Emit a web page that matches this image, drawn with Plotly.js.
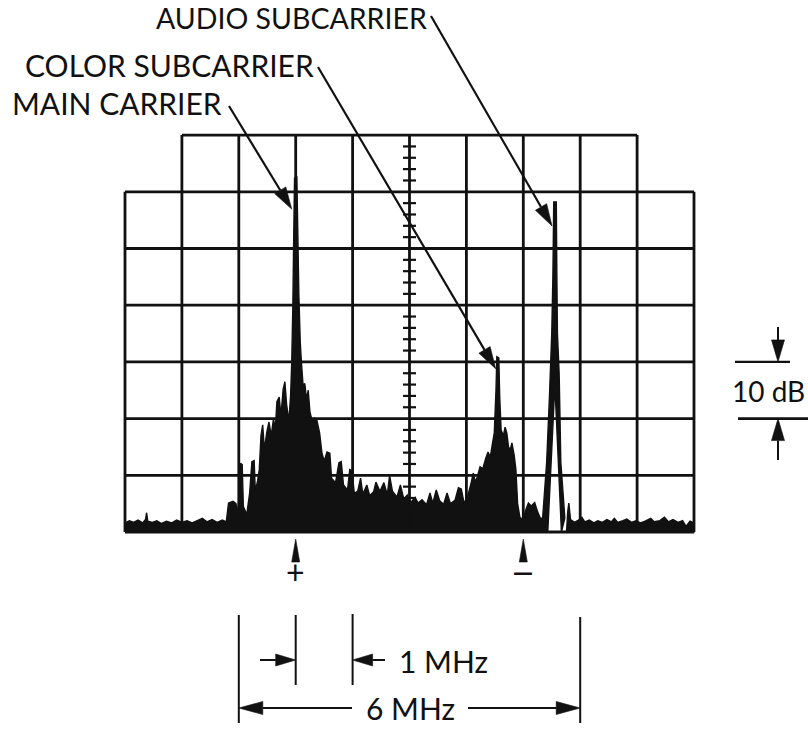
<!DOCTYPE html>
<html>
<head>
<meta charset="utf-8">
<script src="https://cdn.plot.ly/plotly-3.0.1.min.js"></script>
<style>
  html, body { margin: 0; padding: 0; background: #fff; }
  #chart { width: 808px; height: 729px; }
</style>
</head>
<body>
<div id="chart"></div>
<script>
// Spectrum trace: frequency offset from the main carrier (MHz) and level (dB, 0 = top graticule line)
const traceFreqMHz = [
  -3.00, -2.92, -2.85, -2.77, -2.69, -2.64, -2.62, -2.60, -2.52, -2.44,
  -2.36, -2.27, -2.18, -2.09, -2.00, -1.91, -1.82, -1.73, -1.64, -1.56,
  -1.47, -1.38, -1.29, -1.22, -1.20, -1.18, -1.10, -1.05, -1.02, -0.99,
  -0.97, -0.94, -0.92, -0.86, -0.81, -0.77, -0.73, -0.71, -0.67, -0.64,
  -0.61, -0.58, -0.55, -0.51, -0.47, -0.43, -0.39, -0.36, -0.33, -0.29,
  -0.26, -0.22, -0.19, -0.16, -0.12, -0.09, -0.07, -0.05, -0.035, -0.02,
   0.02, 0.035, 0.055, 0.08, 0.10, 0.13, 0.16, 0.19, 0.22, 0.25,
   0.29, 0.33, 0.37, 0.42, 0.46, 0.50, 0.55, 0.60, 0.63, 0.70,
   0.76, 0.80, 0.84, 0.91, 0.95, 0.99, 1.03, 1.09, 1.14, 1.18,
   1.25, 1.30, 1.37, 1.41, 1.48, 1.55, 1.61, 1.65, 1.70, 1.78,
   1.84, 1.90, 1.96, 2.02, 2.10, 2.15, 2.22, 2.30, 2.36, 2.41,
   2.47, 2.53, 2.60, 2.66, 2.72, 2.80, 2.86, 2.91, 2.96, 3.02,
   3.08, 3.12, 3.16, 3.19, 3.24, 3.29, 3.34, 3.38, 3.42, 3.46,
   3.49, 3.52, 3.535, 3.57, 3.585, 3.61, 3.65, 3.68, 3.71, 3.74,
   3.77, 3.80, 3.84, 3.87, 3.90, 3.94, 3.99, 4.04, 4.09, 4.14,
   4.20, 4.25, 4.30, 4.34, 4.41, 4.46, 4.50, 4.52, 4.535, 4.58,
   4.59, 4.60, 4.63, 4.66, 4.73, 4.67, 4.555, 4.43, 4.76, 4.78,
   4.80, 4.83, 4.90, 4.97, 5.03, 5.08, 5.16, 5.24, 5.31, 5.39,
   5.47, 5.55, 5.60, 5.66, 5.75, 5.82, 5.90, 5.98, 6.06, 6.14,
   6.24, 6.30, 6.40, 6.48, 6.55, 6.63, 6.72, 6.80, 6.86, 6.93,
   7.00
];
const traceLevelDb = [
  -68.4, -68.0, -68.3, -67.9, -68.4, -67.8, -66.6, -68.1, -68.3, -68.0,
  -68.5, -68.1, -68.4, -67.9, -68.3, -68.0, -68.4, -68.0, -67.6, -68.2,
  -67.8, -68.3, -67.9, -68.2, -66.5, -64.9, -64.6, -65.0, -66.8, -63.0,
  -57.9, -58.1, -65.5, -66.9, -63.2, -57.6, -57.4, -62.8, -61.0, -59.0,
  -53.0, -51.1, -55.5, -52.5, -50.6, -53.0, -50.0, -52.0, -47.0, -46.2,
  -49.5, -44.8, -43.5, -47.5, -50.5, -46.0, -40.2, -30.0, -18.0, -7.6,
  -7.4, -16.0, -28.0, -36.5, -40.0, -44.2, -43.8, -46.6, -45.0, -48.8,
  -50.4, -49.9, -50.2, -52.5, -56.0, -57.5, -55.9, -56.1, -60.5, -61.3,
  -57.8, -57.6, -61.7, -62.6, -59.0, -59.2, -63.2, -62.8, -60.5, -63.3,
  -61.7, -63.6, -62.9, -61.2, -62.8, -61.3, -63.4, -60.0, -62.8, -63.8,
  -61.7, -64.2, -63.5, -64.8, -63.9, -64.9, -64.3, -65.2, -63.1, -64.9,
  -62.6, -64.5, -65.1, -63.1, -65.0, -64.4, -62.2, -62.4, -64.9, -63.8,
  -61.5, -59.6, -61.2, -60.3, -58.5, -58.8, -57.0, -55.9, -56.8, -54.3,
  -52.5, -45.0, -39.1, -39.3, -46.0, -52.0, -53.0, -51.5, -52.5, -55.0,
  -55.5, -54.3, -56.5, -59.0, -65.0, -67.4, -67.8, -66.2, -64.9, -65.4,
  -64.8, -66.4, -67.6, -67.5, -57.8, -46.0, -35.0, -25.0, -11.8, -11.8,
  -25.0, -35.0, -42.0, -57.8, -67.5, -70.0, -44.0, -70.0, -70.0, -66.5,
  -64.9, -67.8, -68.3, -67.9, -67.4, -68.2, -67.9, -68.4, -68.0, -68.3,
  -67.8, -68.2, -67.6, -68.3, -68.0, -67.7, -68.3, -68.0, -68.4, -68.1,
  -67.6, -68.2, -68.0, -67.4, -68.2, -67.8, -68.3, -68.0, -69.0, -68.1,
  -68.4
];

// Carriers called out by the labels
const carrierNames = ['MAIN CARRIER', 'COLOR SUBCARRIER', 'AUDIO SUBCARRIER'];
const carrierFreqMHz = [0, 3.55, 4.54];
const carrierPeakDb = [-7.4, -39.1, -11.8];

// Sweep markers below the display
const markerFreqMHz = [0, 4];
const markerSigns = ['+', '\u2014'];

// Graticule: 10 divisions of 1 MHz, 7 divisions of 10 dB
const gridFreqMHz = [-3, -2, -1, 0, 1, 2, 3, 4, 5, 6, 7];
const gridLevelDb = [-70, -60, -50, -40, -30, -20, -10, 0];

// Dimension callouts
const spanOneMHz = [0, 1];
const spanSixMHz = [-1, 5];
const spanTenDb = [-50, -40];
const spanLabels = ['1 MHz', '6 MHz', '10 dB'];

// ---- page geometry ----
const W = 808, H = 729;
const PX_PER_MHZ = 56.9, PX_PER_DB = 5.67;
const GRID_LEFT_PX = 125, GRID_BOTTOM_PX = 532;
const fMin = gridFreqMHz[0], fMax = gridFreqMHz[gridFreqMHz.length - 1];
const dMin = gridLevelDb[0], dMax = gridLevelDb[gridLevelDb.length - 1];

// screen pixel <-> axis value, used for placing callouts in screen units
const fAt = px => fMin + (px - GRID_LEFT_PX) / PX_PER_MHZ;
const dbAt = py => dMin + (GRID_BOTTOM_PX - py) / PX_PER_DB;
const pxOf = f => GRID_LEFT_PX + (f - fMin) * PX_PER_MHZ;
const pyOf = d => GRID_BOTTOM_PX - (d - dMin) * PX_PER_DB;

const INK = '#111';
const FONT = { family: 'Lato, "Noto Sans", sans-serif', size: 30, color: INK };
const shapes = [];
const annotations = [];

function seg(x0, y0, x1, y1, w) {
  shapes.push({ type: 'line', xref: 'x', yref: 'y', x0, y0, x1, y1,
                line: { color: INK, width: w } });
}
function segPx(a, b, w) { seg(fAt(a[0]), dbAt(a[1]), fAt(b[0]), dbAt(b[1]), w); }
function polyPx(pts) {
  const p = pts.map((q, i) => (i ? 'L' : 'M') + fAt(q[0]).toFixed(4) + ',' + dbAt(q[1]).toFixed(4)).join(' ') + ' Z';
  shapes.push({ type: 'path', xref: 'x', yref: 'y', path: p, fillcolor: INK,
                line: { color: INK, width: 0.6 } });
}
// filled arrowhead with its point at tip, aimed away from `from`; returns the base centre
function arrowHead(tip, from, len, hw) {
  const dx = tip[0] - from[0], dy = tip[1] - from[1], L = Math.hypot(dx, dy);
  const ux = dx / L, uy = dy / L;
  const bx = tip[0] - ux * len, by = tip[1] - uy * len;
  polyPx([tip, [bx - uy * hw, by + ux * hw], [bx + uy * hw, by - ux * hw]]);
  return [bx, by];
}
function arrow(from, tip, len, hw, w) {
  const base = arrowHead(tip, from, len, hw);
  segPx(from, base, w);
}
function textPx(str, px, py, anchor, font) {
  annotations.push({ xref: 'x', yref: 'y', x: fAt(px), y: dbAt(py), text: str,
                     showarrow: false, xanchor: anchor || 'left', yanchor: 'middle',
                     font: font || FONT });
}

// ---- graticule (top corner cells are open) ----
const GRID_W = 2.8;
gridFreqMHz.forEach((f, i) => {
  const edge = i === 0 || i === gridFreqMHz.length - 1;
  seg(f, dMin, f, edge ? gridLevelDb[gridLevelDb.length - 2] : dMax, GRID_W);
});
gridLevelDb.forEach((d, i) => {
  const top = i === gridLevelDb.length - 1;
  seg(top ? gridFreqMHz[1] : fMin, d, top ? gridFreqMHz[gridFreqMHz.length - 2] : fMax, d, GRID_W);
});
// subdivision ticks on the centre line, five per division
const fMid = (fMin + fMax) / 2;
const tickHalf = 6.5 / PX_PER_MHZ;
for (let i = 0; i < gridLevelDb.length - 1; i++) {
  for (let k = 1; k < 5; k++) {
    const d = gridLevelDb[i] + (gridLevelDb[i + 1] - gridLevelDb[i]) * k / 5;
    seg(fMid - tickHalf, d, fMid + tickHalf, d, 2.2);
  }
}

// ---- carrier labels with pointers ----
const labelAt = [[10, 103], [23, 65], [154, 18]];
const labelSize = [30, 30, 28.5];
const pointerFrom = [[229, 106], [318, 67], [431, 16]];
const tipOffset = [[-4, 32], [-2, 12], [-2, 24]];
carrierNames.forEach((name, i) => {
  textPx(name, labelAt[i][0], labelAt[i][1], 'left', Object.assign({}, FONT, { size: labelSize[i] }));
  const tip = [pxOf(carrierFreqMHz[i]) + tipOffset[i][0], pyOf(carrierPeakDb[i]) + tipOffset[i][1]];
  arrow(pointerFrom[i], tip, 22, 6.5, 2.2);
});

// ---- sweep markers ----
const SIGN_FONT = [
  Object.assign({}, FONT, { size: 32 }),
  { family: '"DejaVu Sans", sans-serif', size: 20, color: INK, weight: 'bold' }
];
markerFreqMHz.forEach((f, i) => {
  const x = pxOf(f);
  polyPx([[x, 539], [x - 4, 562], [x + 4, 562]]);
  textPx(markerSigns[i], x, i === 0 ? 571 : 572, 'center', SIGN_FONT[i]);
});

// ---- 1 MHz / 6 MHz dimensions ----
seg(spanSixMHz[0], dbAt(615), spanSixMHz[0], dbAt(723), 2);
seg(spanSixMHz[1], dbAt(617), spanSixMHz[1], dbAt(723), 2);
seg(spanOneMHz[0], dbAt(615), spanOneMHz[0], dbAt(685), 2);
seg(spanOneMHz[1], dbAt(614), spanOneMHz[1], dbAt(685), 2);
arrow([260, 660], [pxOf(spanOneMHz[0]), 660], 20, 6, 2);
arrow([385, 660], [pxOf(spanOneMHz[1]), 660], 20, 6, 2);
textPx(spanLabels[0], 397, 661);
arrow([352, 708], [pxOf(spanSixMHz[0]), 708], 24, 6.5, 2);
arrow([468, 708], [pxOf(spanSixMHz[1]), 708], 24, 6.5, 2);
textPx(spanLabels[1], 410, 708, 'center');

// ---- 10 dB dimension ----
seg(fAt(735), spanTenDb[1], fAt(790), spanTenDb[1], 2.2);
seg(fAt(738), spanTenDb[0], fAt(808), spanTenDb[0], 2.6);
arrow([778, 327], [778, pyOf(spanTenDb[1])], 22, 6.5, 2);
arrow([778, 460], [778, pyOf(spanTenDb[0])], 22, 6.5, 2);
textPx(spanLabels[2], 807, 391, 'right', Object.assign({}, FONT, { size: 28 }));

// ---- spectrum trace, filled down to the bottom graticule line ----
const trace = {
  x: traceFreqMHz.concat([fMax, fMin]),
  y: traceLevelDb.concat([dMin, dMin]),
  mode: 'lines',
  fill: 'toself',
  fillcolor: INK,
  line: { color: INK, width: 1.4, simplify: false },
  hoverinfo: 'skip'
};

const layout = {
  width: W, height: H,
  margin: { l: 0, r: 0, t: 0, b: 0, pad: 0 },
  paper_bgcolor: '#fff', plot_bgcolor: '#fff',
  showlegend: false,
  xaxis: { range: [fAt(0), fAt(W)], visible: false, fixedrange: true },
  yaxis: { range: [dbAt(H), dbAt(0)], visible: false, fixedrange: true },
  shapes, annotations
};

Plotly.newPlot('chart', [trace], layout, { displayModeBar: false, staticPlot: true });
</script>
</body>
</html>
